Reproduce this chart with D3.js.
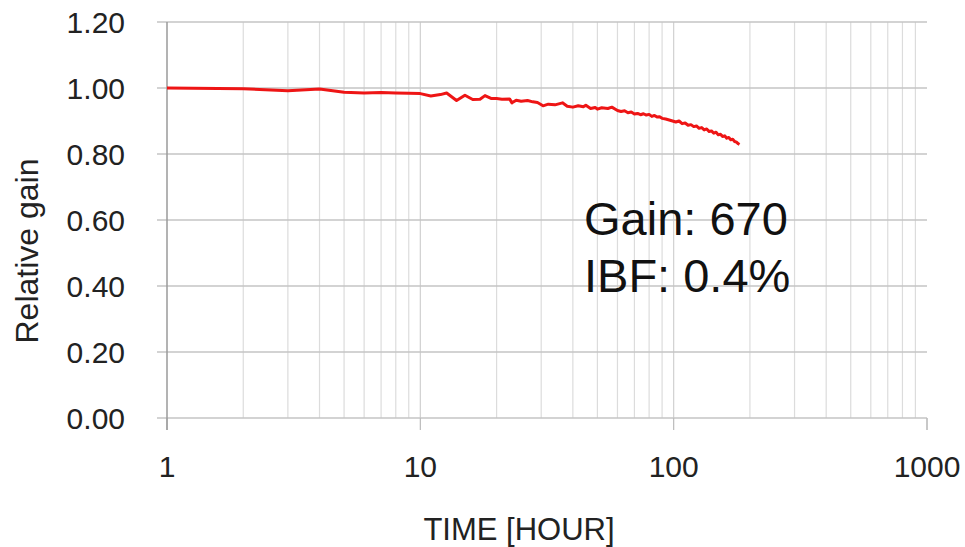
<!DOCTYPE html>
<html><head><meta charset="utf-8">
<script src="https://cdn.jsdelivr.net/npm/d3@7"></script>
<style>body{margin:0;background:#fff}text{font-family:"Liberation Sans",Arial,sans-serif}</style>
</head><body><svg id="c" width="965" height="547"></svg>
<script>
const hours = [1,2,3,4,5,6,7,8,9,10,11,12,12.7,13.9,15,16.1,17.2,18,19.1,20,21,22.5,23,23.9,25,26.5,27.8,29,30.5,32,34,36.4,38,40,42,44,45,47,49,50,52,55,57,60,62,64,66,68,70,72,74,76,78,80,82,84,86,88,90,93,96,99,102,105,108,111,114,117,120,123,126,129,132,135,138,141,144,147,150,153,156,159,162,165,168,171,174,177,180,182];
const gain = [1.000,0.998,0.992,0.997,0.987,0.985,0.986,0.985,0.984,0.983,0.976,0.980,0.985,0.962,0.978,0.965,0.966,0.977,0.968,0.968,0.966,0.967,0.955,0.963,0.960,0.962,0.958,0.956,0.946,0.951,0.949,0.955,0.945,0.942,0.946,0.943,0.948,0.938,0.941,0.936,0.940,0.938,0.942,0.932,0.929,0.931,0.925,0.927,0.921,0.923,0.919,0.922,0.918,0.920,0.914,0.917,0.912,0.913,0.908,0.906,0.903,0.900,0.897,0.900,0.892,0.894,0.887,0.889,0.883,0.885,0.878,0.880,0.873,0.876,0.868,0.870,0.863,0.866,0.858,0.860,0.853,0.855,0.848,0.850,0.843,0.845,0.838,0.836,0.831,0.829];
const yTicks = [0,0.2,0.4,0.6,0.8,1.0,1.2];
const xMajor = [1,10,100,1000];
const xMinor = [2,3,4,5,6,7,8,9,20,30,40,50,60,70,80,90,200,300,400,500,600,700,800,900];
const annotation = ["Gain: 670","IBF: 0.4%"];
const xTitle = "TIME [HOUR]";
const yTitle = "Relative gain";

const svg = d3.select("#c");
const x = d3.scaleLog().domain([1,1000]).range([167,927]);
const y = d3.scaleLinear().domain([0,1.2]).range([418,22]);

svg.append("g").selectAll("line").data(xMinor).join("line")
  .attr("x1",d=>x(d)).attr("x2",d=>x(d)).attr("y1",y(1.2)).attr("y2",y(0))
  .attr("stroke","#dcdcdc").attr("stroke-width",1.2);
svg.append("g").selectAll("line").data([10,100]).join("line")
  .attr("x1",d=>x(d)).attr("x2",d=>x(d)).attr("y1",y(1.2)).attr("y2",y(0))
  .attr("stroke","#d0d0d0").attr("stroke-width",1.2);
svg.append("g").selectAll("line").data(yTicks).join("line")
  .attr("x1",157).attr("x2",x(1000)).attr("y1",d=>y(d)).attr("y2",d=>y(d))
  .attr("stroke","#c4c4c4").attr("stroke-width",1.5);
svg.append("line").attr("x1",x(1000)).attr("x2",x(1000)).attr("y1",y(0)).attr("y2",y(0)+12)
  .attr("stroke","#c4c4c4").attr("stroke-width",1.2);
svg.append("g").selectAll("line").data(xMajor).join("line")
  .attr("x1",d=>x(d)).attr("x2",d=>x(d)).attr("y1",y(0)).attr("y2",y(0)+12)
  .attr("stroke","#bbb").attr("stroke-width",1.2);
svg.append("line").attr("x1",x(1)).attr("x2",x(1)).attr("y1",y(1.2)).attr("y2",y(0)+12)
  .attr("stroke","#9a9a9a").attr("stroke-width",1.5);

svg.append("g").selectAll("text").data(yTicks).join("text")
  .attr("x",125).attr("y",d=>y(d)).attr("dy","0.36em").attr("text-anchor","end")
  .attr("font-size",30).attr("fill","#222").text(d=>d.toFixed(2));
svg.append("g").selectAll("text").data(xMajor).join("text")
  .attr("x",d=>x(d)).attr("y",477).attr("text-anchor","middle")
  .attr("font-size",30).attr("fill","#222").text(d=>d);

const line = d3.line().x((d,i)=>x(hours[i])).y(d=>y(d));
svg.append("path").datum(gain).attr("d",line).attr("fill","none")
  .attr("stroke","#ee1515").attr("stroke-width",3).attr("stroke-linejoin","round");

svg.append("text").attr("x",519).attr("y",540).attr("text-anchor","middle")
  .attr("font-size",31).attr("fill","#222").text(xTitle);
svg.append("text").attr("transform","translate(38,251) rotate(-90)").attr("text-anchor","middle")
  .attr("font-size",32).attr("fill","#222").text(yTitle);

svg.append("g").selectAll("text").data(annotation).join("text")
  .attr("x",584).attr("y",(d,i)=>235+i*57).attr("font-size",47).attr("fill","#111").text(d=>d);
</script></body></html>
